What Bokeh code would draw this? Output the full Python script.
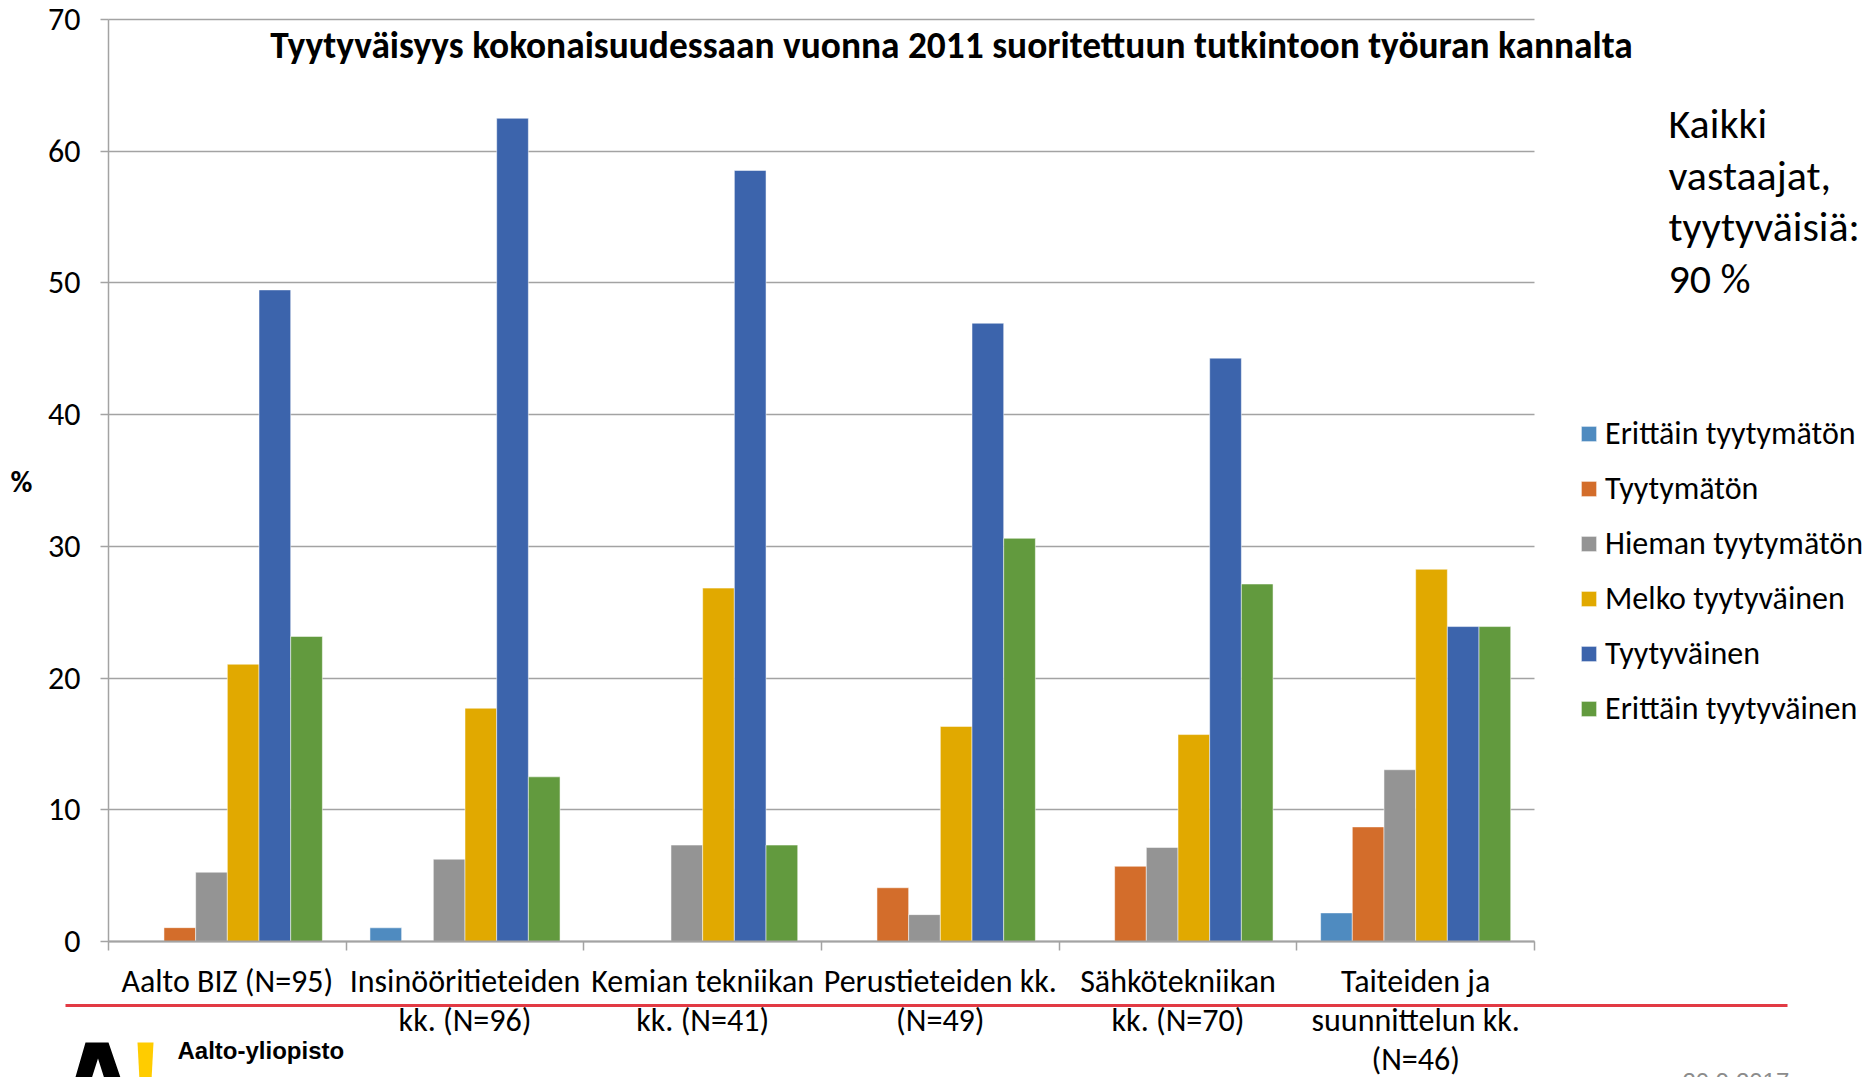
import subprocess
from bokeh.plotting import figure
from bokeh.models import (ColumnDataSource, Range1d, FixedTicker, Label, Legend,
                          LegendItem, Arrow, PolyAnnotation)
from bokeh.transform import dodge
from bokeh.embed import file_html
from bokeh.resources import INLINE

# ---------------- data ----------------
categories = [
    "Aalto BIZ (N=95)",
    "Insinööritieteiden\nkk. (N=96)",
    "Kemian tekniikan\nkk. (N=41)",
    "Perustieteiden kk.\n(N=49)",
    "Sähkötekniikan\nkk. (N=70)",
    "Taiteiden ja\nsuunnittelun kk.\n(N=46)",
]
series_names = [
    "Erittäin tyytymätön",
    "Tyytymätön",
    "Hieman tyytymätön",
    "Melko tyytyväinen",
    "Tyytyväinen",
    "Erittäin tyytyväinen",
]
erittain_tyytymaton = [0.0, 1.04, 0.0, 0.0, 0.0, 2.17]
tyytymaton = [1.05, 0.0, 0.0, 4.08, 5.71, 8.70]
hieman_tyytymaton = [5.26, 6.25, 7.32, 2.04, 7.14, 13.04]
melko_tyytyvainen = [21.05, 17.71, 26.83, 16.33, 15.71, 28.26]
tyytyvainen = [49.47, 62.50, 58.54, 46.94, 44.29, 23.91]
erittain_tyytyvainen = [23.16, 12.50, 7.32, 30.61, 27.14, 23.91]
y_ticks = [0, 10, 20, 30, 40, 50, 60, 70]
title_text = "Tyytyväisyys kokonaisuudessaan vuonna 2011 suoritettuun tutkintoon työuran kannalta"
side_note = ["Kaikki", "vastaajat,", "tyytyväisiä:", "90 %"]
date_text = "20.9.2017"

colors = ["#4F8BC0", "#D36D2B", "#949494", "#E1A900", "#3C64AC", "#629A3E"]

# ---------------- fonts ----------------
try:
    fams = subprocess.run(["fc-list", ":", "family"], capture_output=True, text=True).stdout
except Exception:
    fams = ""
FONT = "Carlito" if "Carlito" in fams else "Lato"
LOGO_FONT = "Liberation Sans"

# ---------------- layout (pixels) ----------------
W, H = 1872, 1077
PX_LEFT, PX_RIGHT, PX_TOP, PX_BOTTOM = 108, 1534, 19, 941
NCAT = len(categories)
YMAX = 70
xs = (PX_RIGHT - PX_LEFT) / NCAT
ys = (PX_BOTTOM - PX_TOP) / YMAX

p = figure(width=W, height=H, output_backend="svg", toolbar_location=None,
           x_range=Range1d(-PX_LEFT / xs, NCAT + (W - PX_RIGHT) / xs),
           y_range=Range1d(-(H - PX_BOTTOM) / ys, YMAX + PX_TOP / ys))
p.min_border = 0
p.outline_line_color = None
p.background_fill_color = "white"
p.border_fill_color = "white"

src = ColumnDataSource(dict(
    x=[i + 0.5 for i in range(NCAT)],
    s0=erittain_tyytymaton, s1=tyytymaton, s2=hieman_tyytymaton,
    s3=melko_tyytyvainen, s4=tyytyvainen, s5=erittain_tyytyvainen,
))

GRID = "#A3A3A3"

# grid lines limited to the plot area
p.xgrid.grid_line_color = None
grid = p.ygrid[0]
if "cross_bounds" in grid.properties():
    grid.ticker = FixedTicker(ticks=y_ticks)
    grid.cross_bounds = (0, NCAT)
    grid.grid_line_color = GRID
    grid.grid_line_width = 1.5
else:
    grid.grid_line_color = None
    p.segment(x0=[0] * len(y_ticks), x1=[NCAT] * len(y_ticks), y0=y_ticks, y1=y_ticks,
              line_color=GRID, line_width=1.5)

BW = 0.1333
renderers = []
for j in range(6):
    r = p.vbar(x=dodge("x", (j - 2.5) * BW, range=p.x_range), top=f"s{j}",
               width=BW, source=src, fill_color=colors[j],
               line_color="white", line_width=1, line_alpha=0.5)
    renderers.append(r)

# axes, pinned at data 0
p.yaxis.fixed_location = 0
p.yaxis.bounds = (0, YMAX)
p.yaxis.ticker = FixedTicker(ticks=y_ticks)
p.yaxis.axis_line_color = GRID
p.yaxis.axis_line_width = 1.5
p.yaxis.major_tick_line_color = GRID
p.yaxis.major_tick_line_width = 1.5
p.yaxis.major_tick_in = 0
p.yaxis.major_tick_out = 8
p.yaxis.minor_tick_line_color = None
p.yaxis.major_label_standoff = 20
p.yaxis.major_label_text_font = FONT
p.yaxis.major_label_text_font_size = "32px"
p.yaxis.major_label_text_color = "black"

p.xaxis.fixed_location = 0
p.xaxis.bounds = (0, NCAT)
p.xaxis.ticker = FixedTicker(ticks=list(range(NCAT + 1)))
p.xaxis.major_label_overrides = {i: "" for i in range(NCAT + 1)}
p.xaxis.axis_line_color = GRID
p.xaxis.axis_line_width = 2
p.xaxis.major_tick_line_color = GRID
p.xaxis.major_tick_line_width = 1.5
p.xaxis.major_tick_in = 0
p.xaxis.major_tick_out = 9
p.xaxis.minor_tick_line_color = None

def sy(page_y):
    return H - page_y

# category labels
for i, cat in enumerate(categories):
    p.add_layout(Label(x=i + 0.5, y=sy(961), x_units="data", y_units="screen",
                       text=cat, text_align="center", text_baseline="top",
                       text_font=FONT, text_font_size="32px", text_color="black",
                       text_line_height=1.01))

# title
p.add_layout(Label(x=951, y=sy(44), x_units="screen", y_units="screen",
                   text=title_text, text_align="center", text_baseline="middle",
                   text_font=FONT, text_font_style="bold", text_font_size="37.4px",
                   text_color="black"))

# y label
p.add_layout(Label(x=21, y=sy(481), x_units="screen", y_units="screen",
                   text="%", text_align="center", text_baseline="middle",
                   text_font=FONT, text_font_style="bold", text_font_size="30px",
                   text_color="black"))

# side note
for k, line in enumerate(side_note):
    p.add_layout(Label(x=1668, y=sy(123 + k * 51.7), x_units="screen", y_units="screen",
                       text=line, text_align="left", text_baseline="middle",
                       text_font=FONT, text_font_size="42px", text_color="black"))

# legend
legend = Legend(items=[LegendItem(label=n, renderers=[r]) for n, r in zip(series_names, renderers)],
                location=(1579, sy(728)), orientation="vertical",
                glyph_width=19, glyph_height=19, label_standoff=7, spacing=16,
                padding=0, margin=0, border_line_color=None, background_fill_alpha=0,
                label_text_font=FONT, label_text_font_size="32px", label_text_color="black")
p.add_layout(legend, "center")

# red template line
p.add_layout(Arrow(end=None, x_start=65, y_start=sy(1005), x_end=1787, y_end=sy(1005),
                   start_units="screen", end_units="screen",
                   line_color="#E23A44", line_width=3))

# logo
p.add_layout(PolyAnnotation(xs=[85, 108, 121, 104.5, 97.5, 90.5, 74],
                            ys=[sy(1042), sy(1042), sy(1080), sy(1080), sy(1058), sy(1080), sy(1080)],
                            xs_units="screen", ys_units="screen",
                            fill_color="black", fill_alpha=1, line_color=None))
p.add_layout(PolyAnnotation(xs=[137, 153, 151, 139],
                            ys=[sy(1042), sy(1042), sy(1080), sy(1080)],
                            xs_units="screen", ys_units="screen",
                            fill_color="#FFCC00", fill_alpha=1, line_color=None))
p.add_layout(Label(x=177, y=sy(1050), x_units="screen", y_units="screen",
                   text="Aalto-yliopisto", text_align="left", text_baseline="alphabetic",
                   text_font=LOGO_FONT, text_font_style="bold", text_font_size="24px",
                   text_color="black"))
p.add_layout(Label(x=1682, y=sy(1081), x_units="screen", y_units="screen",
                   text=date_text, text_align="left", text_baseline="alphabetic",
                   text_font=LOGO_FONT, text_font_size="24px", text_color="#8C8C8C"))

open("out.html", "w").write(file_html(p, INLINE))
